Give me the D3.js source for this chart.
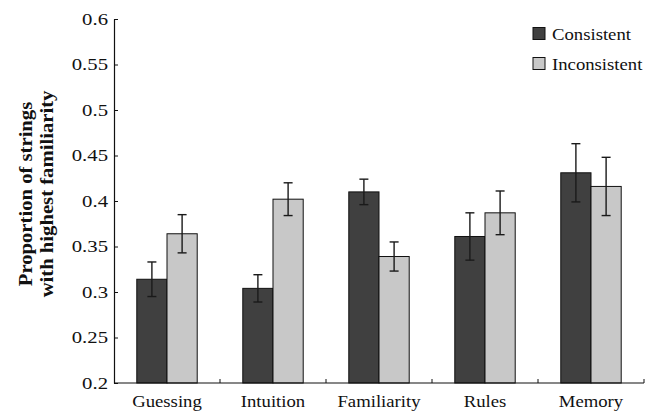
<!DOCTYPE html>
<html><head><meta charset="utf-8">
<script src="https://cdn.jsdelivr.net/npm/d3@7"></script>
<style>body{margin:0;background:#fff}svg{display:block}</style>
</head><body>
<svg id="c" width="645" height="414" style="font-family:'Liberation Serif'"></svg>
<script>
const categories = ["Guessing","Intuition","Familiarity","Rules","Memory"];
const seriesNames = ["Consistent","Inconsistent"];
const consistent = [0.314,0.304,0.410,0.361,0.431];
const inconsistent = [0.364,0.402,0.339,0.387,0.416];
const consistentErr = [0.019,0.015,0.014,0.026,0.032];
const inconsistentErr = [0.021,0.018,0.016,0.024,0.032];
const yTicks = [0.2,0.25,0.3,0.35,0.4,0.45,0.5,0.55,0.6];
const colors = ["#404040","#c8c8c8"];

const svg = d3.select("#c");
const mLeft = 114, mRight = 644, mTop = 19, mBottom = 383;

function stretch(sel, f){
  sel.each(function(){
    const w = this.getComputedTextLength();
    d3.select(this).attr("textLength", w*f).attr("lengthAdjust","spacingAndGlyphs");
  });
}

const x = d3.scaleBand().domain(categories).range([mLeft, mRight]).paddingInner(0.43).paddingOuter(0.215);
const xs = d3.scaleBand().domain(seriesNames).range([0, x.bandwidth()]);
const y = d3.scaleLinear().domain([0.2,0.6]).range([mBottom, mTop]);

const data = categories.map((c,i)=>({c, vals:[
  {s:"Consistent", v:consistent[i], e:consistentErr[i]},
  {s:"Inconsistent", v:inconsistent[i], e:inconsistentErr[i]}]}));

const g = svg.append("g");
const groups = g.selectAll("g.cat").data(data).join("g")
  .attr("transform", d=>`translate(${x(d.c)},0)`);
groups.selectAll("rect").data(d=>d.vals).join("rect")
  .attr("x", d=>xs(d.s)).attr("width", xs.bandwidth())
  .attr("y", d=>y(d.v)).attr("height", d=>y(0.2)-y(d.v))
  .attr("fill", (d,i)=>colors[i]).attr("stroke","#111").attr("stroke-width",1);
const eb = groups.selectAll("g.eb").data(d=>d.vals).join("g")
  .attr("stroke","#1a1a1a").attr("stroke-width",1.4);
eb.append("line").attr("x1",d=>xs(d.s)+xs.bandwidth()/2).attr("x2",d=>xs(d.s)+xs.bandwidth()/2)
  .attr("y1",d=>y(d.v+d.e)).attr("y2",d=>y(d.v-d.e));
eb.append("line").attr("x1",d=>xs(d.s)+xs.bandwidth()/2-4.5).attr("x2",d=>xs(d.s)+xs.bandwidth()/2+4.5)
  .attr("y1",d=>y(d.v+d.e)).attr("y2",d=>y(d.v+d.e));
eb.append("line").attr("x1",d=>xs(d.s)+xs.bandwidth()/2-4.5).attr("x2",d=>xs(d.s)+xs.bandwidth()/2+4.5)
  .attr("y1",d=>y(d.v-d.e)).attr("y2",d=>y(d.v-d.e));

// y axis
const ya = svg.append("g").attr("transform",`translate(${mLeft},0)`)
  .call(d3.axisLeft(y).tickValues(yTicks).tickFormat(d=>String(+d.toFixed(2))).tickSizeInner(-4).tickSizeOuter(0).tickPadding(6));
ya.attr("font-family",null).attr("font-size",null);
ya.select(".domain").attr("stroke","#111").attr("stroke-width",1.2);
ya.selectAll(".tick line").attr("stroke","#111");
ya.selectAll("text").style("font-size","17px").attr("fill","#111");
stretch(ya.selectAll("text"), 1.22);

// x axis with boundary ticks
const xa = svg.append("g").attr("transform",`translate(0,${mBottom})`);
xa.append("line").attr("x1",mLeft).attr("x2",mRight).attr("stroke","#111").attr("stroke-width",1.2);
const step = x.step();
const bounds = categories.map(c=>x(c)+x.bandwidth()+x.paddingInner()*step/2);
xa.selectAll("line.bt").data(bounds).join("line").attr("class","bt")
  .attr("x1",d=>d).attr("x2",d=>d).attr("y1",0).attr("y2",-4).attr("stroke","#111");
const xl = xa.selectAll("text").data(categories).join("text")
  .attr("x",d=>x(d)+x.bandwidth()/2).attr("y",24).attr("text-anchor","middle")
  .style("font-size","17px").attr("fill","#111").text(d=>d);
stretch(xl, 1.1);

// y title
const yt = svg.append("text").attr("transform","translate(0,194) rotate(-90)")
  .attr("text-anchor","middle").style("font-size","19.5px").style("font-weight","bold").attr("fill","#111");
yt.append("tspan").attr("x",0).attr("y",32).text("Proportion of strings");
yt.append("tspan").attr("x",0).attr("y",53).text("with highest familiarity");
stretch(yt.selectAll("tspan"), 1.06);

// legend
const lg = svg.append("g").attr("transform","translate(533,27.5)");
seriesNames.forEach((s,i)=>{
  lg.append("rect").attr("x",0).attr("y",i*30).attr("width",12).attr("height",12)
    .attr("fill",colors[i]).attr("stroke","#111");
  const t = lg.append("text").attr("x",19).attr("y",i*30+12).style("font-size","17px").attr("fill","#111").text(s);
  stretch(t, 1.1);
});
</script>
</body></html>
